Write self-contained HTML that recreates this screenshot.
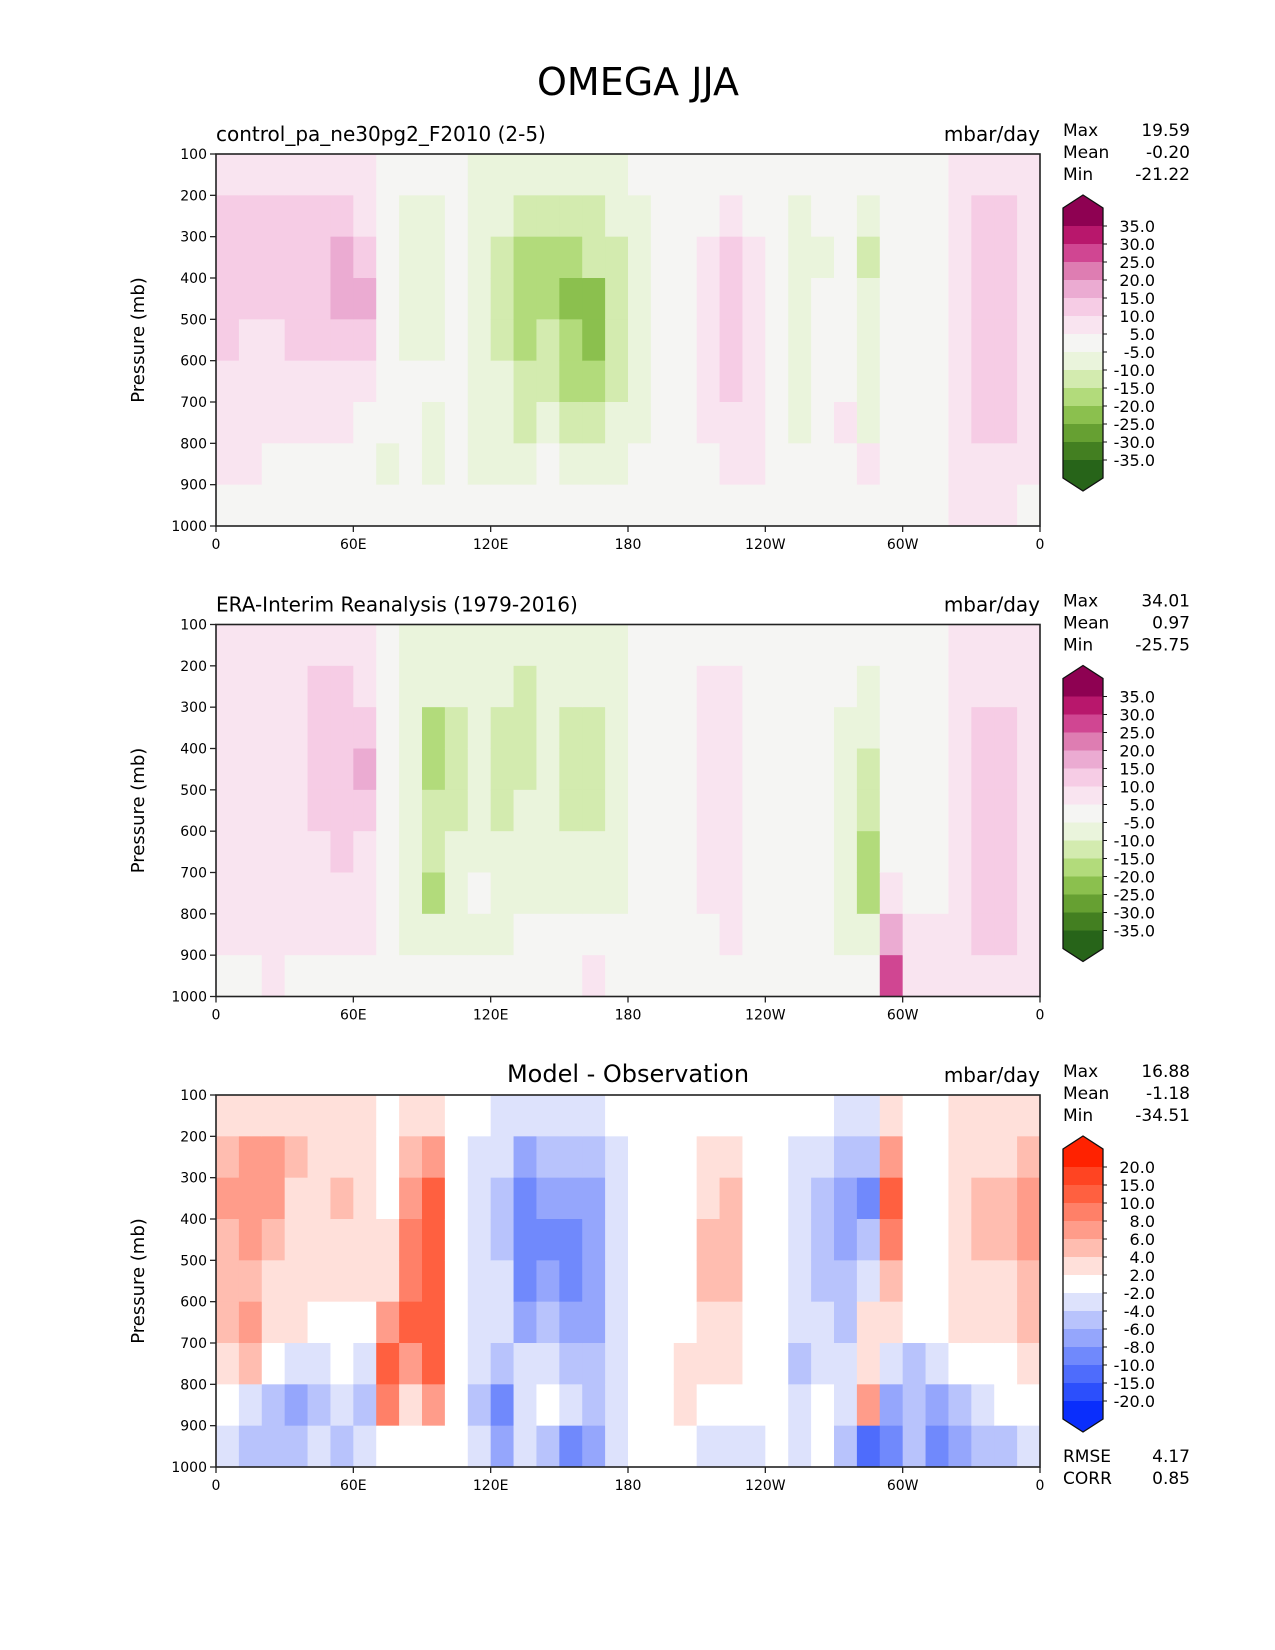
<!DOCTYPE html>
<html><head><meta charset="utf-8"><style>
body{margin:0;background:#fff}
svg{display:block}
text{font-family:"DejaVu Sans","Liberation Sans",sans-serif;fill:#000}
</style></head><body>
<svg id="fig" width="1275" height="1650" viewBox="0 0 1275 1650" xmlns="http://www.w3.org/2000/svg">
<text x="638" y="95" font-size="38" text-anchor="middle">OMEGA JJA</text>
</svg>
<script>
// ---- data ----
const lonCats = [0,10,20,30,40,50,60,70,80,90,100,110,120,130,140,150,160,170,180,190,200,210,220,230,240,250,260,270,280,290,300,310,320,330,340,350];
const presRows = [100,200,300,400,500,600,700,800,900];
const xTickLons = [0,60,120,180,240,300,360];
const xTickLabels = ["0","60E","120E","180","120W","60W","0"];
const yTicks = [100,200,300,400,500,600,700,800,900,1000];
const levelsPiYG = [35,30,25,20,15,10,5,-5,-10,-15,-20,-25,-30,-35];
const colorsPiYG = ["#8e0152","#b8176c","#d04692","#de7db2","#ebabd2","#f6cce5","#f9e4f0","#f5f5f3","#eaf4dc","#d3ebaf","#b2db7b","#8bc04e","#66a032","#437f21","#276419"];
const levelsDiff = [20,15,10,8,6,4,2,-2,-4,-6,-8,-10,-15,-20];
const colorsDiff = ["#ff2200","#ff4422","#ff6040","#ff8068","#ff9c8a","#ffbdb0","#ffe0da","#ffffff","#dde2fc","#b8c3fc","#95a6fc","#7089fc","#4e6cfc","#2c4ffc","#0a2efc"];
// values per longitude column, rows 100-200 ... 900-1000 mb
const modelVals = [
[6,12,12,12,11,8,7,6,2],[7,12,12,12,9,8,8,6,2],[7,12,12,11,9,7,6,3,0],[7,11,12,11,10,7,6,3,-3],
[7,11,13,12,11,7,5,3,0],[6,11,17,17,14,8,6,4,0],[5,8,14,15,12,6,4,2,0],[0,0,0,0,0,2,4,-6,0],
[0,-6,-6,-6,-6,-5,-3,-5,0],[0,-6,-6,-6,-6,-4,-6,-7,-3],[0,0,0,0,0,0,0,0,0],[-6,-6,-7,-7,-7,-6,-6,-6,-4],
[-6,-8,-11,-12,-11,-10,-7,-6,-2],[-7,-11,-16,-18,-16,-14,-11,-6,0],[-7,-12,-16,-16,-13,-11,-8,-5,0],[-7,-12,-16,-21,-18,-16,-12,-6,0],
[-7,-12,-15,-21,-21,-17,-12,-7,-4],[-6,-9,-11,-12,-11,-11,-8,-6,-3],[-3,-6,-6,-6,-6,-6,-6,-3,0],[0,0,0,0,0,0,0,0,0],
[0,0,0,0,0,0,0,0,0],[0,3,7,7,7,7,6,0,0],[0,6,11,11,11,10,8,7,0],[0,3,8,8,8,7,6,6,3],
[0,0,0,0,0,0,0,0,0],[0,-6,-6,-6,-6,-6,-6,0,0],[0,-4,-6,-4,-4,-4,-4,0,0],[0,0,0,0,0,0,6,0,0],
[-4,-8,-11,-10,-8,-6,-6,6,0],[0,0,0,0,0,0,0,0,0],[0,0,0,0,0,0,0,0,0],[0,0,0,0,0,0,0,0,0],
[5,8,8,8,8,8,7,7,5],[6,10,12,13,13,12,11,8,6],[6,10,12,13,12,12,11,8,5],[5,8,8,8,7,6,6,6,3]];
const obsVals = [
[6,7,6,6,6,5,5,5,3],[6,7,6,6,5,5,5,5,4],[6,7,6,6,6,6,6,7,5],[6,6,6,6,6,5,5,6,3],
[6,11,11,11,10,8,6,6,3],[6,11,11,13,12,10,8,7,3],[6,8,12,16,12,8,6,5,2],[0,0,0,0,0,0,0,0,0],
[-6,-7,-8,-8,-8,-7,-7,-6,0],[-7,-10,-16,-16,-15,-13,-17,-10,-4],[-6,-8,-11,-11,-11,-10,-8,-6,-3],[-6,-7,-7,-6,-6,-6,-4,-6,0],
[-6,-10,-12,-12,-11,-10,-7,-6,0],[-6,-11,-12,-11,-10,-7,-6,0,0],[-6,-8,-10,-10,-7,-6,-6,0,0],[-6,-8,-11,-12,-12,-7,-6,-5,3],
[-6,-8,-12,-12,-11,-10,-6,-5,5],[-6,-7,-7,-6,-6,-6,-6,-4,0],[0,0,0,0,0,0,0,0,0],[0,0,0,0,0,0,0,0,0],
[0,0,0,0,0,0,0,0,0],[0,6,6,6,6,6,6,3,0],[0,6,6,6,6,7,9,6,0],[0,0,0,0,0,0,0,0,0],
[0,0,0,0,0,0,0,0,0],[0,0,0,0,0,0,0,0,0],[0,0,0,0,0,0,0,0,0],[0,-5,-6,-6,-6,-6,-6,-6,0],
[-4,-6,-10,-12,-12,-16,-16,-10,-3],[0,0,0,0,0,0,8,15,25],[0,0,0,0,0,0,0,5,5],[0,0,0,0,0,0,0,5,6],
[6,7,8,8,7,7,6,6,6],[6,8,12,12,12,12,11,11,8],[6,8,12,13,13,12,12,11,8],[6,7,7,7,6,6,6,6,5]];
const diffVals = [
[3,5,6,5,5,4,3,-2,-3],[3,7,7,6,5,6,4,-4,-6],[3,6,6,5,3,3,-2,-5,-6],[3,4,3,3,3,2,-4,-8,-6],
[3,3,3,3,2,0,-3,-5,-3],[2,3,4,3,2,0,-2,-4,-6],[3,3,2,2,2,0,-4,-6,-4],[0,0,0,3,3,6,10,8,0],
[3,5,6,8,8,10,6,3,0],[3,7,10,12,10,10,11,6,0],[0,0,0,0,0,0,0,0,0],[-2,-3,-3,-3,-3,-3,-4,-6,-4],
[-3,-4,-5,-5,-4,-3,-6,-10,-8],[-4,-7,-9,-10,-9,-7,-4,-3,-4],[-3,-6,-8,-9,-8,-6,-3,0,-5],[-3,-6,-8,-9,-10,-8,-6,-4,-10],
[-3,-5,-7,-8,-7,-7,-5,-5,-8],[-2,-3,-4,-4,-4,-4,-3,-3,-3],[0,-2,-2,-2,0,0,0,0,0],[0,0,0,0,0,0,0,0,0],
[0,0,0,0,0,0,3,3,0],[0,3,3,4,4,3,3,0,-3],[0,3,5,5,4,3,3,0,-3],[0,0,0,0,0,0,0,0,-3],
[0,0,0,0,0,0,0,0,-2],[0,-3,-4,-4,-4,-4,-5,-3,-3],[-2,-3,-5,-6,-5,-3,-3,-2,0],[-3,-5,-7,-8,-6,-5,-4,-4,-6],
[-3,-5,-9,-6,-4,3,3,6,-12],[3,6,10,8,5,3,-3,-8,-10],[0,0,0,0,0,-2,-5,-6,-6],[0,0,0,0,0,-2,-4,-7,-10],
[2,3,3,3,3,2,-2,-6,-8],[3,3,4,4,3,2,-2,-4,-6],[3,3,4,4,3,2,0,-2,-5],[3,5,6,6,5,4,2,-2,-3]];
const modelStats = ["19.59","-0.20","-21.22"];
const obsStats = ["34.01","0.97","-25.75"];
const diffStats = ["16.88","-1.18","-34.51"];
const diffScores = ["4.17","0.85"];

// ---- drawing ----
const NS = "http://www.w3.org/2000/svg";
const svg = document.getElementById("fig");
const X0 = 216, X1 = 1040;
function xScale(lon){ return X0 + lon / 360 * (X1 - X0); }
function mk(tag, attrs, parent){
  const e = document.createElementNS(NS, tag);
  for (const k in attrs) e.setAttribute(k, attrs[k]);
  (parent || svg).appendChild(e);
  return e;
}
function txt(x, y, s, size, anchor, parent){
  const t = mk("text", {x:x, y:y, "font-size":size, "text-anchor":anchor || "start"}, parent);
  t.textContent = s;
  return t;
}
function colorFor(v, levels, colors){
  for (let i = 0; i < levels.length; i++) if (v >= levels[i]) return colors[i];
  return colors[colors.length - 1];
}

function panel(top, vals, levels, colors, leftTitle, centerTitle, stats, scores, key){
  const bot = top + 372;
  function yScale(p){ return top + (p - 100) / 900 * (bot - top); }
  const g = mk("g", {});
  
  
  const field = mk("g", {}, g);
  
  
  for (let i = 0; i < lonCats.length; i++){
    for (let j = 0; j < presRows.length; j++){
      const xa = xScale(lonCats[i]), xb = xScale(lonCats[i] + 10);
      const ya = yScale(presRows[j]), yb = yScale(presRows[j] + 100);
      const r = mk("rect", {x:xa, y:ya, width:xb - xa + 0.5, height:yb - ya + 0.5, fill:colorFor(vals[i][j], levels, colors)}, field);
      
      
    }
  }
  const frame = mk("rect", {x:X0, y:top, width:X1 - X0, height:bot - top, fill:"none", stroke:"#222", "stroke-width":1.6}, g);
  
  
  for (let k = 0; k < yTicks.length; k++){
    const y = yScale(yTicks[k]);
    mk("line", {x1:X0 - 6, x2:X0, y1:y, y2:y, stroke:"#222", "stroke-width":1.3}, g);
    const t = txt(X0 - 9, y + 5, String(yTicks[k]), 14, "end", g);
    
    
  }
  for (let k = 0; k < xTickLons.length; k++){
    const x = xScale(xTickLons[k]);
    mk("line", {x1:x, x2:x, y1:bot, y2:bot + 6, stroke:"#222", "stroke-width":1.3}, g);
    const t = txt(x, bot + 23, xTickLabels[k], 14, "middle", g);
    
    
  }
  const yl = txt(0, 0, "Pressure (mb)", 18, "middle", g);
  yl.setAttribute("transform", "translate(144," + ((top + bot) / 2) + ") rotate(-90)");
  
  
  if (leftTitle){
    const lt = txt(X0, top - 13, leftTitle, 20, "start", g);
    
    
  }
  if (centerTitle){
    const ct = txt((X0 + X1) / 2, top - 13, centerTitle, 24, "middle", g);
    
    
  }
  const un = txt(X1, top - 13, "mbar/day", 20, "end", g);
  
  
  const names = ["Max","Mean","Min"];
  for (let k = 0; k < 3; k++){
    const a = txt(1063, top - 18 + k * 22, names[k], 17, "start", g);
    
    
    const b = txt(1190, top - 18 + k * 22, stats[k], 17, "end", g);
    
    
  }
  if (scores){
    const sn = ["RMSE","CORR"];
    for (let k = 0; k < 2; k++){
      const a = txt(1063, bot - 5 + k * 22, sn[k], 17, "start", g);
      
      
      const b = txt(1190, bot - 5 + k * 22, scores[k], 17, "end", g);
      
      
    }
  }
  // colorbar
  const cb = mk("g", {}, g);
  
  
  const cx0 = 1063, cx1 = 1103, segH = 18, ry0 = top + 54, nseg = colors.length;
  const ry1 = ry0 + segH * nseg;
  mk("polygon", {points:cx0 + "," + ry0 + " " + (cx0 + cx1) / 2 + "," + (ry0 - 13) + " " + cx1 + "," + ry0, fill:colors[0]}, cb);
  mk("polygon", {points:cx0 + "," + ry1 + " " + (cx0 + cx1) / 2 + "," + (ry1 + 13) + " " + cx1 + "," + ry1, fill:colors[nseg - 1]}, cb);
  for (let k = 0; k < nseg; k++){
    const s = mk("rect", {x:cx0, y:ry0 + k * segH, width:cx1 - cx0, height:segH + 0.5, fill:colors[k]}, cb);
    
    
  }
  mk("polygon", {points:cx0 + "," + ry0 + " " + (cx0 + cx1) / 2 + "," + (ry0 - 13) + " " + cx1 + "," + ry0 + " " + cx1 + "," + ry1 + " " + (cx0 + cx1) / 2 + "," + (ry1 + 13) + " " + cx0 + "," + ry1, fill:"none", stroke:"#111", "stroke-width":1.3}, cb);
  for (let k = 0; k < levels.length; k++){
    const y = ry0 + (k + 1) * segH;
    mk("line", {x1:cx1, x2:cx1 + 4, y1:y, y2:y, stroke:"#111", "stroke-width":1}, cb);
    const t = txt(1155, y + 6, levels[k].toFixed(1), 16, "end", cb);
    
    
  }
}
panel(154, modelVals, levelsPiYG, colorsPiYG, "control_pa_ne30pg2_F2010 (2-5)", null, modelStats, null, "model");
panel(624.5, obsVals, levelsPiYG, colorsPiYG, "ERA-Interim Reanalysis (1979-2016)", null, obsStats, null, "observation");
panel(1095, diffVals, levelsDiff, colorsDiff, null, "Model - Observation", diffStats, diffScores, "difference");
</script>
</body></html>
